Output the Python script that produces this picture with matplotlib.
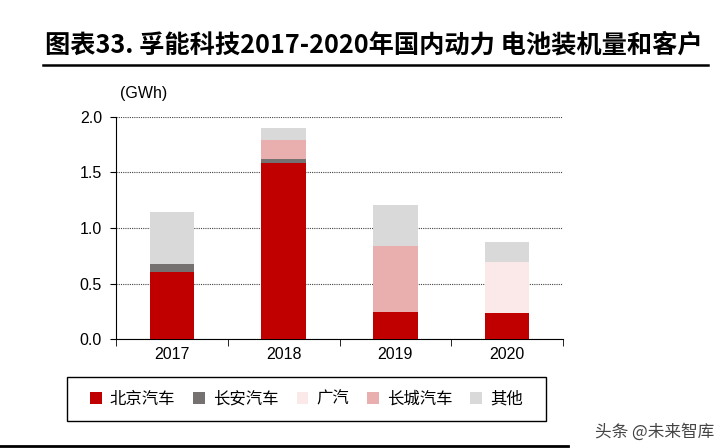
import numpy as np
import matplotlib.pyplot as plt
from matplotlib.lines import Line2D
from matplotlib.patches import Rectangle

plt.rcParams['font.family'] = ['Liberation Sans', 'Noto Sans CJK SC', 'DejaVu Sans']

# data (GWh)
years = ['2017', '2018', '2019', '2020']
customers = ['北京汽车', '长安汽车', '广汽', '长城汽车', '其他']
beijing = [0.60, 1.59, 0.24, 0.23]
changan = [0.08, 0.03, 0.00, 0.00]
guangqi = [0.00, 0.00, 0.00, 0.46]
changcheng = [0.00, 0.17, 0.60, 0.00]
others = [0.46, 0.11, 0.37, 0.18]
colors = ['#C00000', '#767171', '#FBE9EA', '#E8AFAE', '#D9D9D9']

fig = plt.figure(figsize=(7.21, 4.48), dpi=100)
ax = fig.add_axes([116 / 721, 1 - 339 / 448, (563 - 116) / 721, (339 - 117) / 448])

x = np.arange(len(years))
bottom = np.zeros(len(years))
for name, vals, c in zip(customers, [beijing, changan, guangqi, changcheng, others], colors):
    ax.bar(x, vals, 0.4, bottom=bottom, color=c, label=name, zorder=3)
    bottom += np.array(vals)

ax.set_xlim(-0.5, 3.5)
ax.set_ylim(0, 2.0)
ax.set_yticks(np.arange(0, 2.01, 0.5))
ax.set_yticklabels([f'{v:.1f}' for v in np.arange(0, 2.01, 0.5)], fontsize=11.5)
ax.yaxis.grid(True, linestyle=(0, (1, 1)), color='#444444', linewidth=0.8, zorder=0)
ax.set_xticks(x)
ax.set_xticklabels(years, fontsize=11.5)
ax.tick_params(axis='x', length=0, pad=6)
ax.set_xticks(np.arange(-0.5, 3.6, 1), minor=True)
ax.tick_params(axis='x', which='minor', length=5, color='black')
ax.tick_params(axis='y', length=4, color='black', pad=6)
for s in ['top', 'right']:
    ax.spines[s].set_visible(False)
ax.spines['left'].set_color('black')
ax.spines['bottom'].set_color('black')

ax.text(0.01, 1.07, '(GWh)', transform=ax.transAxes, fontsize=11.5, ha='left', va='bottom')

# title and rules
fig.text(45 / 721, 1 - 45 / 448, '图表33. 孚能科技2017-2020年国内动力 电池装机量和客户',
         fontsize=18.2, fontweight='bold', ha='left', va='center',
         family=['Noto Sans CJK SC', 'DejaVu Sans'])
fig.add_artist(Line2D([43 / 721, 708 / 721], [1 - 65 / 448] * 2, color='black', lw=1.8))
fig.add_artist(Line2D([0, 568 / 721], [1 - 446 / 448] * 2, color='black', lw=2.0))

# legend with its own frame
fig.add_artist(Rectangle((67 / 721, 1 - 421 / 448), (546 - 67) / 721, 44 / 448,
                         transform=fig.transFigure, fill=False, edgecolor='black', lw=1.0))
leg = fig.legend(loc='center', bbox_to_anchor=((67 + 546) / 2 / 721, 1 - 399 / 448),
                 ncol=5, frameon=False,
                 handlelength=0.7, handleheight=0.7, columnspacing=1.1, handletextpad=0.5,
                 prop={'family': ['Noto Sans CJK SC'], 'size': 11.8})

fig.text(714 / 721, 1 - 432 / 448, '头条 @未来智库', fontsize=12, color='#444444',
         ha='right', va='center', family=['Noto Sans CJK SC'])

fig.savefig('out.png', dpi=100)
